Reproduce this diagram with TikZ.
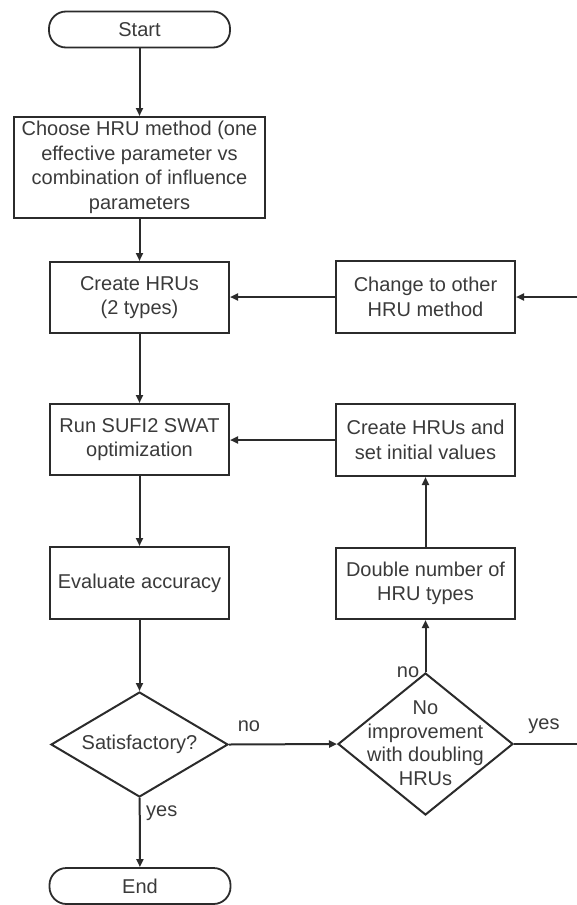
\documentclass[tikz,border=0pt]{standalone}
\usepackage{fontspec}
\setmainfont{Liberation Sans}
\usetikzlibrary{shapes.geometric,arrows.meta}
\definecolor{ink}{HTML}{2B2B2B}
\definecolor{txt}{HTML}{3A3A3A}
\begin{document}
\begin{tikzpicture}[x=1pt,y=-1pt,
  every node/.style={font=\fontsize{20}{24.5}\selectfont, text=txt},
  box/.style={draw=ink, line width=2pt, rectangle, inner sep=0pt, align=center},
  term/.style={draw=ink, line width=1.8pt, rectangle, rounded corners=17pt,
    minimum width=181pt, minimum height=36pt, inner sep=0pt},
  dia/.style={draw=ink, line width=2pt, diamond, inner sep=0pt},
  flow/.style={draw=ink, line width=2pt, -{Triangle[length=8pt,width=7pt]}},
  plain/.style={draw=ink, line width=2pt},
  lbl/.style={inner sep=0pt}]
\useasboundingbox (0,0) rectangle (577,905);
\clip (0,0) rectangle (577,905);

% main column
\node[term] (start) at (139.5,29.5) {Start};
\node[box, minimum width=251pt, minimum height=101pt] (choose) at (139.5,167.5)
  {Choose HRU method (one\\effective parameter vs\\combination of influence\\parameters};
\node[box, minimum width=179pt, minimum height=71pt] (create) at (139.5,297.5)
  {Create HRUs\\(2 types)};
\node[box, minimum width=179pt, minimum height=71pt] (run) at (139.5,439.5)
  {Run SUFI2 SWAT\\optimization};
\node[box, minimum width=179pt, minimum height=72pt] (eval) at (139.5,583)
  {Evaluate accuracy};
\node[dia, minimum width=177pt, minimum height=105pt] (sat) at (139.5,744.5) {};
\node at (sat) {Satisfactory?};
\node[term] (end) at (140,886) {End};

% side column
\node[box, minimum width=179pt, minimum height=72pt] (change) at (425.5,297)
  {Change to other\\HRU method};
\node[box, minimum width=179pt, minimum height=72pt] (init) at (425.5,440)
  {Create HRUs and\\set initial values};
\node[box, minimum width=179pt, minimum height=71pt] (double) at (425.5,583.5)
  {Double number of\\HRU types};
\node[dia, minimum width=175pt, minimum height=142pt] (noimp) at (425.5,744) {};
\node[align=center, font=\fontsize{20}{23.5}\selectfont] at (425.5,743)
  {No\\improvement\\with doubling\\HRUs};

% loose ends at the right margin
\coordinate (inR) at (577,297);
\coordinate (outR) at (577,744);

% connectors
\draw[flow] (start) -- (choose);
\draw[flow] (choose) -- (create);
\draw[flow] (create) -- (run);
\draw[flow] (run) -- (eval);
\draw[flow] (eval) -- (sat);
\draw[flow] (sat) -- (end);
\draw[flow] (sat.east) -- (noimp.west);
\draw[flow] (noimp.north) -- (double);
\draw[flow] (double) -- (init);
\draw[flow] (init.west) -- (run.east |- init.west);
\draw[flow] (change.west) -- (create.east |- change.west);
\draw[flow] (inR) -- (change.east |- inR);
\draw[plain] (noimp.east) -- (outR);

% branch labels
\node[lbl, anchor=west] at (146,813) {yes};
\node[lbl] at (249,726) {no};
\node[lbl] at (408,672) {no};
\node[lbl] at (544,726) {yes};
\end{tikzpicture}
\end{document}
